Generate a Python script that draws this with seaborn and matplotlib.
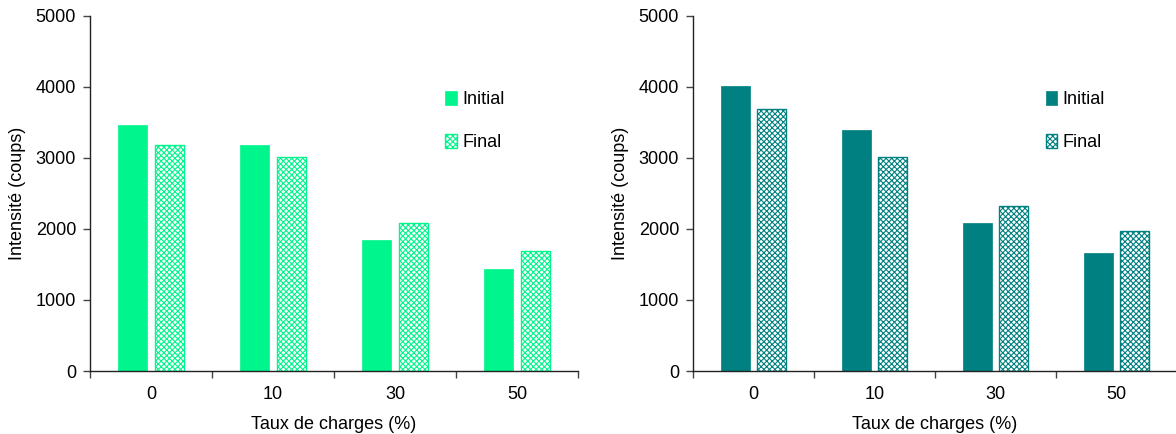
"""Intensité initiale / finale selon le taux de charges."""

import matplotlib.pyplot as plt
import pandas as pd
import seaborn as sns
from matplotlib.ticker import FixedLocator

TAUX = ["0", "10", "30", "50"]
SERIES = ["Initial", "Final"]
LEFT_INITIAL = [3470, 3190, 1845, 1440]
LEFT_FINAL = [3190, 3020, 2080, 1690]
RIGHT_INITIAL = [4020, 3400, 2080, 1660]
RIGHT_FINAL = [3690, 3020, 2320, 1970]

LEFT_COLOR = "#00F58C"
RIGHT_COLOR = "#008080"

sns.set_style("white")
plt.rcParams["font.family"] = ["Liberation Sans", "DejaVu Sans"]
plt.rcParams["hatch.linewidth"] = 0.8
plt.rcParams["text.color"] = "black"
plt.rcParams["axes.labelcolor"] = "black"
plt.rcParams["xtick.color"] = "black"
plt.rcParams["ytick.color"] = "black"


def make_frame(initial, final):
    return pd.DataFrame({
        "taux": TAUX * 2,
        "serie": ["Initial"] * len(TAUX) + ["Final"] * len(TAUX),
        "val": initial + final,
    })


def draw(ax, df, color):
    sns.barplot(
        data=df, x="taux", y="val", hue="serie", hue_order=SERIES,
        palette=[color, color], width=0.6, gap=0.22, ax=ax,
        legend=False, errorbar=None,
    )
    n = len(TAUX)
    for i, bar in enumerate(ax.patches[: 2 * n]):
        if i < n:
            bar.set_facecolor(color)
            bar.set_edgecolor(color)
            bar.set_linewidth(0.5)
            bar.set_label("Initial" if i == 0 else "_")
        else:
            bar.set_facecolor("white")
            bar.set_edgecolor(color)
            bar.set_hatch("xxxxxx")
            bar.set_linewidth(1.0)
            bar.set_label("Final" if i == n else "_")

    ax.set_ylim(0, 5000)
    ax.set_xlim(-0.5, n - 0.5)
    ax.set_yticks(range(0, 5001, 1000))
    ax.xaxis.set_minor_locator(FixedLocator([k + 0.5 for k in range(-1, n)]))
    ax.tick_params(axis="x", which="major", length=0, pad=11, labelsize=13)
    ax.tick_params(axis="x", which="minor", length=5, width=1, color="#444444",
                   direction="out", bottom=True)
    ax.tick_params(axis="y", length=5, width=1, direction="out", left=True,
                   labelsize=13, color="#444444", pad=5)
    for side in ("top", "right"):
        ax.spines[side].set_visible(False)
    for side in ("left", "bottom"):
        ax.spines[side].set_color("#222222")
        ax.spines[side].set_linewidth(1.0)
    ax.set_xlabel("Taux de charges (%)", fontsize=13, labelpad=9)
    ax.set_ylabel("Intensité (coups)", fontsize=13, labelpad=7)

    handles, labels = ax.get_legend_handles_labels()
    ax.legend(
        handles, labels, loc="upper left", bbox_to_anchor=(0.695, 0.835),
        frameon=False, fontsize=13, handlelength=0.65, handleheight=0.8,
        handletextpad=0.3, labelspacing=1.45,
    )


fig = plt.figure(figsize=(11.76, 4.34), dpi=100)
ax1 = fig.add_axes([90 / 1176, 63 / 434, 488 / 1176, 355 / 434])
ax2 = fig.add_axes([693 / 1176, 63 / 434, 484 / 1176, 355 / 434])

draw(ax1, make_frame(LEFT_INITIAL, LEFT_FINAL), LEFT_COLOR)
draw(ax2, make_frame(RIGHT_INITIAL, RIGHT_FINAL), RIGHT_COLOR)

fig.savefig("out.png", dpi=100)
